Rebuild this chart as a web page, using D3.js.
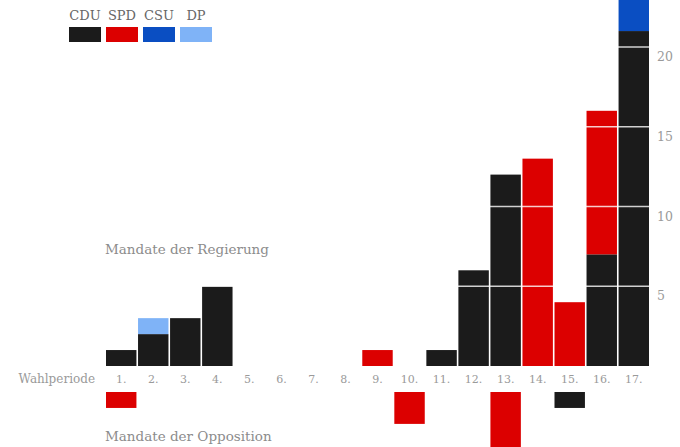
<!DOCTYPE html>
<html>
<head>
<meta charset="utf-8">
<script src="https://cdn.jsdelivr.net/npm/d3@7"></script>
<style>
  html, body { margin: 0; padding: 0; background: #fff; }
  svg { display: block; }
  text { font-family: "DejaVu Serif", serif; }
</style>
</head>
<body>
<div id="chart"></div>
<script>
const parties = ["CDU", "SPD", "CSU", "DP"];
const partyColors = ["#1b1b1b", "#dc0000", "#0a4ec2", "#7fb3f7"];
const periods = ["1.", "2.", "3.", "4.", "5.", "6.", "7.", "8.", "9.", "10.", "11.", "12.", "13.", "14.", "15.", "16.", "17."];

// seats of the governing side per period
const govCDU = [1, 2, 3, 5, 0, 0, 0, 0, 0, 0, 1, 6, 12, 0, 0, 7, 21];
const govSPD = [0, 0, 0, 0, 0, 0, 0, 0, 1, 0, 0, 0, 0, 13, 4, 9, 0];
const govCSU = [0, 0, 0, 0, 0, 0, 0, 0, 0, 0, 0, 0, 0, 0, 0, 0, 3];
const govDP = [0, 1, 0, 0, 0, 0, 0, 0, 0, 0, 0, 0, 0, 0, 0, 0, 0];

// seats of the opposition per period
const oppCDU = [0, 0, 0, 0, 0, 0, 0, 0, 0, 0, 0, 0, 0, 0, 1, 0, 0];
const oppSPD = [1, 0, 0, 0, 0, 0, 0, 0, 0, 2, 0, 0, 4, 0, 0, 0, 0];
const oppCSU = [0, 0, 0, 0, 0, 0, 0, 0, 0, 0, 0, 0, 0, 0, 0, 0, 0];
const oppDP = [0, 0, 0, 0, 0, 0, 0, 0, 0, 0, 0, 0, 0, 0, 0, 0, 0];

const yTicks = [5, 10, 15, 20];

const width = 680;
const height = 447;
const baseGov = 366;
const baseOpp = 392;
const unit = 15.95;

const toRows = (cdu, spd, csu, dp) =>
  periods.map((p, i) => ({ period: p, CDU: cdu[i], SPD: spd[i], CSU: csu[i], DP: dp[i] }));

const govRows = toRows(govCDU, govSPD, govCSU, govDP);
const oppRows = toRows(oppCDU, oppSPD, oppCSU, oppDP);

const svg = d3.select("#chart")
  .append("svg")
  .attr("width", width)
  .attr("height", height);

const x = d3.scaleBand()
  .domain(periods)
  .range([106, 649])
  .paddingInner(0.05)
  .paddingOuter(0);

const y = d3.scaleLinear()
  .domain([0, 20])
  .range([baseGov, baseGov - 20 * unit]);

const yOpp = d3.scaleLinear()
  .domain([0, 5])
  .range([baseOpp, baseOpp + 5 * unit]);

const color = d3.scaleOrdinal().domain(parties).range(partyColors);
const stack = d3.stack().keys(parties);

// government bars
svg.append("g")
  .selectAll("g")
  .data(stack(govRows))
  .join("g")
  .attr("fill", (d) => color(d.key))
  .selectAll("rect")
  .data((d) => d.filter((s) => s[1] > s[0]))
  .join("rect")
  .attr("x", (d) => x(d.data.period))
  .attr("width", x.bandwidth())
  .attr("y", (d) => y(d[1]))
  .attr("height", (d) => y(d[0]) - y(d[1]));

// opposition bars
svg.append("g")
  .selectAll("g")
  .data(stack(oppRows))
  .join("g")
  .attr("fill", (d) => color(d.key))
  .selectAll("rect")
  .data((d) => d.filter((s) => s[1] > s[0]))
  .join("rect")
  .attr("x", (d) => x(d.data.period))
  .attr("width", x.bandwidth())
  .attr("y", (d) => yOpp(d[0]))
  .attr("height", (d) => yOpp(d[1]) - yOpp(d[0]));

// white gridlines over the bars + right-hand labels
const grid = svg.append("g");
grid.selectAll("line")
  .data(yTicks)
  .join("line")
  .attr("x1", 106)
  .attr("x2", 652)
  .attr("y1", (d) => y(d))
  .attr("y2", (d) => y(d))
  .attr("stroke", "#ffffff")
  .attr("stroke-opacity", 0.8)
  .attr("stroke-width", 1.5);

grid.selectAll("text")
  .data(yTicks)
  .join("text")
  .attr("x", 657)
  .attr("y", (d) => y(d) + 14)
  .attr("fill", "#9a9a9a")
  .attr("font-size", 12.5)
  .text((d) => d);

// period labels
const axis = svg.append("g");
axis.selectAll("text")
  .data(periods)
  .join("text")
  .attr("x", (d) => x(d) + x.bandwidth() / 2)
  .attr("y", 383)
  .attr("text-anchor", "middle")
  .attr("fill", "#9a9a9a")
  .attr("font-size", 11)
  .text((d) => d);

axis.append("text")
  .attr("x", 95)
  .attr("y", 383)
  .attr("text-anchor", "end")
  .attr("fill", "#9a9a9a")
  .attr("font-size", 12)
  .text("Wahlperiode");

svg.append("text")
  .attr("x", 105)
  .attr("y", 254)
  .attr("fill", "#8c8c8c")
  .attr("font-size", 13.5)
  .text("Mandate der Regierung");

svg.append("text")
  .attr("x", 105)
  .attr("y", 441)
  .attr("fill", "#8c8c8c")
  .attr("font-size", 13.5)
  .text("Mandate der Opposition");

// legend
const legend = svg.append("g")
  .selectAll("g")
  .data(parties)
  .join("g")
  .attr("transform", (d, i) => `translate(${69 + i * 37},0)`);

legend.append("text")
  .attr("x", 16)
  .attr("y", 20)
  .attr("text-anchor", "middle")
  .attr("fill", "#666")
  .attr("font-size", 13)
  .text((d) => d);

legend.append("rect")
  .attr("x", 0)
  .attr("y", 27)
  .attr("width", 32)
  .attr("height", 15)
  .attr("fill", (d) => color(d));
</script>
</body>
</html>
